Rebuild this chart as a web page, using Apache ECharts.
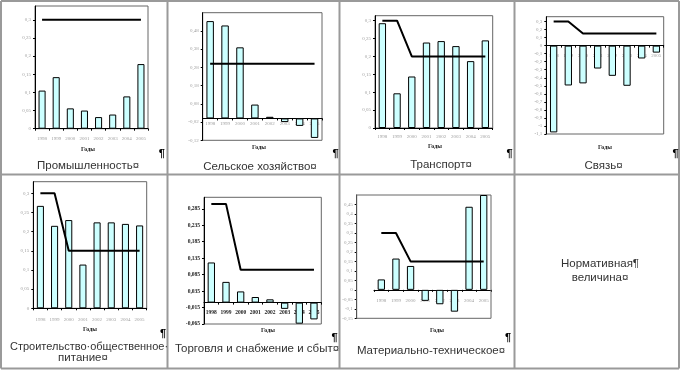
<!DOCTYPE html>
<html><head><meta charset="utf-8">
<script src="https://cdn.jsdelivr.net/npm/echarts@6/dist/echarts.min.js"></script>
<style>html,body{margin:0;padding:0;background:#fff}#c{width:680px;height:370px}</style>
</head><body><div id="c"></div>
<script>
// ---- data ----
const years = ['1998','1999','2000','2001','2002','2003','2004','2005'];
const promBars  = [0.105, 0.142, 0.056, 0.050, 0.032, 0.039, 0.089, 0.178];
const promNorm  = [0.3, 0.3, 0.3, 0.3, 0.3, 0.3, 0.3, 0.3];
const agroBars  = [0.534, 0.510, 0.390, 0.076, 0.009, -0.020, -0.041, -0.107];
const agroNorm  = [0.3, 0.3, 0.3, 0.3, 0.3, 0.3, 0.3, 0.3];
const transBars = [0.293, 0.097, 0.144, 0.239, 0.243, 0.229, 0.187, 0.245];
const transNorm = [0.3, 0.3, 0.2, 0.2, 0.2, 0.2, 0.2, 0.2];
const svyazBars = [-1.08, -0.496, -0.47, -0.285, -0.376, -0.50, -0.16, -0.087];
const svyazNorm = [0.3, 0.3, 0.15, 0.15, 0.15, 0.15, 0.15, 0.15];
const stroiBars = [0.267, 0.215, 0.230, 0.114, 0.224, 0.224, 0.220, 0.216];
const stroiNorm = [0.3, 0.3, 0.15, 0.15, 0.15, 0.15, 0.15, 0.15];
const torgBars  = [0.122, 0.063, 0.034, 0.017, 0.010, -0.019, -0.064, -0.051];
const torgNorm  = [0.3, 0.3, 0.1, 0.1, 0.1, 0.1, 0.1, 0.1];
const matBars   = [0.055, 0.165, 0.126, -0.058, -0.076, -0.115, 0.438, 0.5];
const matNorm   = [0.3, 0.3, 0.15, 0.15, 0.15, 0.15, 0.15, 0.15];
const axisName = 'Годы';

// ---- layout ----
const panels = [
  {bars: promBars,  norm: promNorm,  grid:{left:35, top:6, width:113, height:122.7}, y:{min:0, max:0.338, interval:0.05}, lm:7.5, g:[88,149]},
  {bars: agroBars,  norm: agroNorm,  grid:{left:202.7, top:12.7, width:119.3, height:127.6}, y:{min:-0.12, max:0.58, interval:0.1}, lm:-18.8, g:[259,147]},
  {bars: transBars, norm: transNorm, grid:{left:375, top:15.7, width:117.7, height:112.3}, y:{min:0, max:0.314, interval:0.05}, lm:6.5, g:[435,146]},
  {bars: svyazBars, norm: svyazNorm, grid:{left:546.3, top:16.7, width:117.4, height:117.3}, y:{min:-1.1, max:0.36, interval:0.1}, lm:-80.5, g:[605,147]},
  {bars: stroiBars, norm: stroiNorm, grid:{left:33.3, top:181.7, width:113.4, height:126.6}, y:{min:0, max:0.33, interval:0.05}, lm:8.5, g:[90,329]},
  {bars: torgBars,  norm: torgNorm,  grid:{left:204, top:197.3, width:117.3, height:126.7}, y:{min:-0.065, max:0.32, interval:0.05}, lm:-14.5, g:[268,330], bold:true},
  {bars: matBars,   norm: matNorm,   grid:{left:374, top:195, width:117, height:123.3}, y:{min:-0.15, max:0.5, interval:0.05}, lm:-20.1, g:[437,330], offset:17.3}
];

const fmt = v => String(Math.round(v * 1000) / 1000).replace('.', ',');
const grids = [], xAxes = [], yAxes = [], series = [];
panels.forEach((p, i) => {
  grids.push(Object.assign({show: !p.offset, borderColor:'#666', borderWidth:1, containLabel:false}, p.grid));
  const lblFont = p.bold ? {fontFamily:'Liberation Serif', fontWeight:'bold', color:'#222', fontSize:5.5}
                         : {fontFamily:'Liberation Serif', color:'#a0a0a0', fontSize:5};
  xAxes.push({type:'category', gridIndex:i, data:years,
    axisLine:{show:true, onZero:true, lineStyle:{color:'#000', width:1}},
    axisTick:{show:true, length:2, lineStyle:{color:'#000'}},
    axisLabel:Object.assign({margin:p.lm, interval:0}, lblFont),
    splitLine:{show:false}});
  yAxes.push({type:'value', gridIndex:i, min:p.y.min, max:p.y.max, interval:p.y.interval,
    offset: p.offset || 0,
    axisLine:{show:true, lineStyle:{color:'#000', width:1}},
    axisTick:{show:true, length:2, lineStyle:{color:'#000'}},
    axisLabel:Object.assign({margin:4, formatter:fmt, showMaxLabel: false, showMinLabel:true}, lblFont),
    splitLine:{show:false}});
  series.push({type:'bar', xAxisIndex:i, yAxisIndex:i, data:p.bars, barWidth:'50%',
    itemStyle:{color:'#ccffff', borderColor:'#000', borderWidth:1}, animation:false});
  series.push({type:'line', xAxisIndex:i, yAxisIndex:i, data:p.norm, symbol:'none',
    lineStyle:{color:'#000', width:2}, animation:false, z:3});
});

const T = (text, x, y, font, fill) => ({type:'text', x:x, y:y, z:10,
  style:{text:text, x:0, y:0, font:font, fill:fill || '#333', align:'center', verticalAlign:'middle', textAlign:'center', textVerticalAlign:'middle'}});
const L = (x1,y1,x2,y2) => ({type:'line', z:1, shape:{x1,y1,x2,y2}, style:{stroke:'#9a9a9a', lineWidth:2}});

const titleFont = '11.5px "Liberation Sans", Arial, sans-serif';
const pilcrowFont = 'bold 11px "Liberation Sans", Arial, sans-serif';
const gFont = 'bold 6px "Liberation Serif", serif';
const graphic = [
  L(1,1,679,1), L(1,1,1,368.5), L(679,1,679,368.5), L(1,368.5,679,368.5),
  L(1,174.5,679,174.5), L(167.5,1,167.5,368.5), L(339.5,1,339.5,368.5), L(514.5,1,514.5,368.5),
  {type:'rect', z:2, shape:{x:356.7, y:195, width:134.3, height:123.3}, style:{fill:'none', stroke:'#666', lineWidth:1}},
  T('Промышленность¤', 88, 166, titleFont),
  T('Сельское хозяйство¤', 260, 166.5, titleFont),
  T('Транспорт¤', 441, 165, titleFont),
  T('Связь¤', 603.5, 166, titleFont),
  T('Строительство·общественное·', 89, 347, '11px "Liberation Sans", Arial, sans-serif'),
  T('питание¤', 83, 358, titleFont),
  T('Торговля и снабжение и сбыт¤', 257, 349, titleFont),
  T('Материально-техническое¤', 431, 351, titleFont),
  T('Нормативная¶', 600, 264, titleFont),
  T('величина¤', 600, 278, titleFont),
  T('¶', 161.7, 154, pilcrowFont, '#000'),
  T('¶', 335.5, 154, pilcrowFont, '#000'),
  T('¶', 509.5, 154, pilcrowFont, '#000'),
  T('¶', 675.5, 154, pilcrowFont, '#000'),
  T('¶', 163, 333.5, pilcrowFont, '#000'),
  T('¶', 334.5, 338, pilcrowFont, '#000'),
  T('¶', 508, 338, pilcrowFont, '#000')
];
panels.forEach(p => graphic.push(T(axisName, p.g[0], p.g[1], gFont, '#222')));

const chart = echarts.init(document.getElementById('c'), null, {renderer:'canvas'});
chart.setOption({animation:false, grid:grids, xAxis:xAxes, yAxis:yAxes, series:series, graphic:graphic});
</script></body></html>
